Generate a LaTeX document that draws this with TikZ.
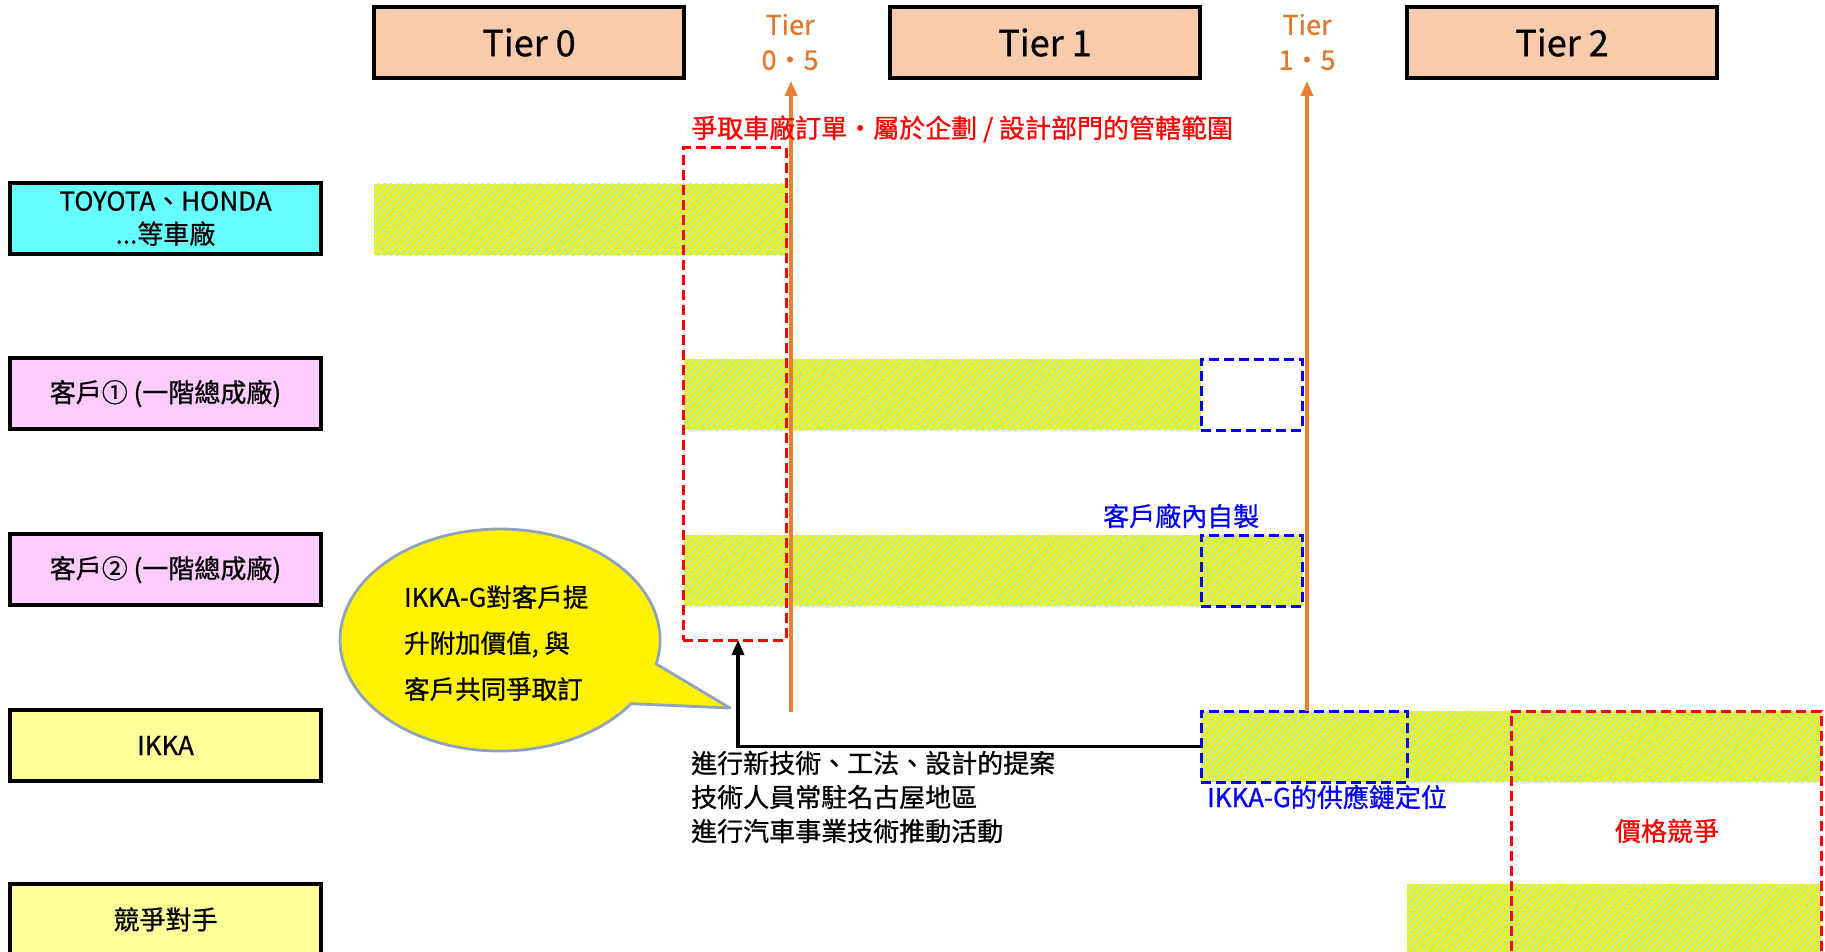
\documentclass[tikz,border=0pt]{standalone}
\usepackage{fontspec}
\setmainfont[FakeBold=0.8,AutoFakeBold=0.8]{Noto Sans CJK TC}
\usetikzlibrary{arrows.meta,patterns.meta}
\definecolor{peach}{HTML}{F8CBAD}
\definecolor{cyanbox}{HTML}{66FFFF}
\definecolor{pinkbox}{HTML}{FFCCFF}
\definecolor{lightyel}{HTML}{FFFF99}
\definecolor{hatchc}{HTML}{9CEFE0}
\definecolor{orangeln}{HTML}{ED7D31}
\definecolor{orangetx}{HTML}{E2782E}
\definecolor{bubborder}{HTML}{8FA3BF}
\definecolor{pureblue}{RGB}{0,0,255}
\definecolor{purered}{RGB}{255,0,0}
\newcommand\tierfnt{\fontsize{36pt}{40pt}\selectfont}
\newcommand\smallfnt{\fontsize{27pt}{35pt}\selectfont}
\newcommand\rowfnt{\fontsize{26pt}{33pt}\selectfont}
\newcommand\labfnt{\fontsize{26pt}{34pt}\selectfont}
\newcommand\bubfnt{\fontsize{25.5pt}{46pt}\selectfont}
\begin{document}
\begin{tikzpicture}[x=1pt,y=-1pt,
  tierbox/.style={draw=black, line width=3.5pt, fill=peach, minimum width=310pt, minimum height=71pt, anchor=north west, inner sep=0pt, outer sep=0pt, font=\tierfnt},
  rowbox/.style={draw=black, line width=3.5pt, minimum width=311pt, minimum height=71pt, anchor=north west, inner sep=0pt, outer sep=0pt, font=\rowfnt, align=center},
  band/.style={preaction={fill=yellow}, pattern={Lines[angle=45,distance=4.6pt,line width=1.3pt]}, pattern color=hatchc, anchor=north west, inner sep=0pt, outer sep=0pt, minimum height=71pt},
  reddash/.style={draw=purered, line width=3pt, dash pattern=on 10pt off 5pt},
  bluedash/.style={draw=pureblue, line width=3pt, dash pattern=on 10pt off 5pt},
  orangearrow/.style={draw=orangeln, line width=3.2pt, -{Triangle[length=15pt,width=12pt]}},
  blackarrow/.style={draw=black, line width=3.2pt, -{Triangle[length=15pt,width=12pt]}},
  bubble/.style={fill=yellow, draw=bubborder, line width=2.8pt, line join=round},
  lab/.style={font=\labfnt, inner sep=0pt}
]
\useasboundingbox (0,0) rectangle (1825,952);
\clip (0,0) rectangle (1825,952);
\fill[white] (0,0) rectangle (1825,952);

% hatched bands
\node[band, minimum width=414pt] (b1) at (374,184) {};
\node[band, minimum width=517pt] (b2) at (684,359) {};
\node[band, minimum width=619pt] (b3) at (684,535) {};
\node[band, minimum width=620pt] (b4) at (1201,711) {};
\node[band, minimum width=414pt] (b5) at (1407,884) {};

% tier boxes
\node[tierbox] (t0) at (374,7) {Tier 0};
\node[tierbox] (t1) at (890,7) {Tier 1};
\node[tierbox] (t2) at (1407,7) {Tier 2};

% half-tier labels
\node[font=\smallfnt, text=orangetx, align=center, inner sep=0pt] (t05) at (790,42) {Tier\\0・5};
\node[font=\smallfnt, text=orangetx, align=center, inner sep=0pt] (t15) at (1307,42) {Tier\\1・5};

% row boxes
\node[rowbox, fill=cyanbox] (r0) at (10,183) {TOYOTA、HONDA\\...等車廠};
\node[rowbox, fill=pinkbox] (r1) at (10,358) {客戶① (一階總成廠)};
\node[rowbox, fill=pinkbox] (r2) at (10,534) {客戶② (一階總成廠)};
\node[rowbox, fill=lightyel] (r3) at (10,710) {IKKA};
\node[rowbox, fill=lightyel] (r4) at (10,884) {競爭對手};

% dashed frames
\node[reddash, anchor=north west, minimum width=103pt, minimum height=492pt, inner sep=0pt, outer sep=0pt] (f1) at (683,148) {};
\node[bluedash, anchor=north west, minimum width=101pt, minimum height=71pt, inner sep=0pt, outer sep=0pt] (g1) at (1201,359) {};
\node[bluedash, anchor=north west, minimum width=101pt, minimum height=71pt, inner sep=0pt, outer sep=0pt] (g2) at (1201,535) {};
\node[bluedash, anchor=north west, minimum width=206pt, minimum height=71pt, inner sep=0pt, outer sep=0pt] (g3) at (1201,711) {};
\node[reddash, anchor=north west, minimum width=310pt, minimum height=260pt, inner sep=0pt, outer sep=0pt] (f2) at (1511,711) {};

% orange arrows
\coordinate (a05bot) at (791,712);
\coordinate (a05top) at (791,81);
\coordinate (a15bot) at (1307,711);
\coordinate (a15top) at (1307,81);
\draw[orangearrow] (a05bot) -- (a05top);
\draw[orangearrow] (a15bot) -- (a15top);

% labels
\node[lab, text=purered, anchor=west] (title) at (691,129) {爭取車廠訂單・屬於企劃 / 設計部門的管轄範圍};
\node[lab, text=pureblue, anchor=west] (inhouse) at (1103,516) {客戶廠內自製};
\node[lab, text=pureblue, anchor=west] (pos) at (1207,797) {IKKA-G的供應鏈定位};
\node[lab, text=purered] (price) at (1667,831) {價格競爭};
\node[lab, anchor=west, align=left] (acts) at (691,797) {進行新技術、工法、設計的提案\\技術人員常駐名古屋地區\\進行汽車事業技術推動活動};

% black connector
\draw[blackarrow] (g3.west) -| ([xshift=55pt]f1.south west);

% speech bubble
\draw[bubble] (656.2,664.0) -- (730,708) -- (631.1,703.7)
  arc[start angle=35, end angle=372.5, x radius=160, y radius=111] -- cycle;
\node[font=\bubfnt, align=left, anchor=west, inner sep=0pt] (bubtxt) at (404,643) {IKKA-G對客戶提\\升附加價值, 與\\客戶共同爭取訂};
\end{tikzpicture}
\end{document}
